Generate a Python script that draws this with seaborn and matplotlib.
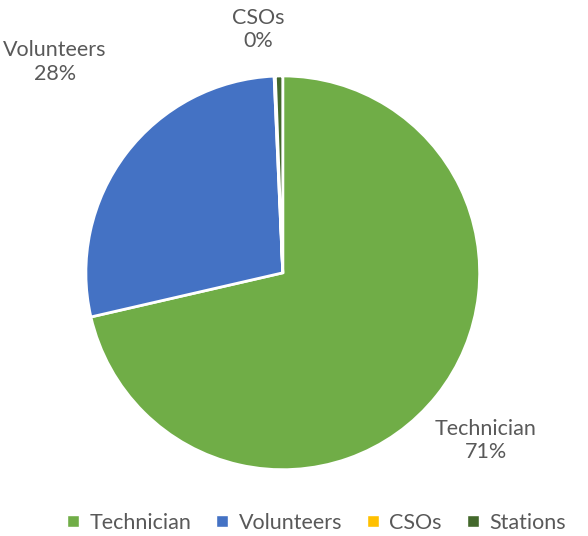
import numpy as np
import pandas as pd
import seaborn as sns
import matplotlib.pyplot as plt
from matplotlib.lines import Line2D

# data
categories = ['Technician', 'Volunteers', 'CSOs', 'Stations']
shares = [71.4, 27.9, 0.1, 0.6]
pct_labels = ['71%', '28%', '0%', None]
colors = ['#70AD47', '#4472C4', '#FFC000', '#43682B']

sns.set_theme(style='white')
plt.rcParams['font.family'] = ['Lato', 'DejaVu Sans']
txt = '#595959'

fig = plt.figure(figsize=(5.88, 5.36), dpi=100)
ax = fig.add_axes([-0.0046, -0.042, 0.971, 1.066])
wedges, _ = ax.pie(shares, colors=colors, startangle=90, counterclock=False,
                   radius=1, wedgeprops=dict(edgecolor='white', linewidth=2))
ax.set_xlim(-1.45, 1.45)
ax.set_ylim(-1.45, 1.45)
ax.set_aspect('equal')
ax.axis('off')

# outside labels
label_pos = {'Technician': (1.03, -0.85), 'Volunteers': (-1.157, 1.071), 'CSOs': (-0.127, 1.234)}
for cat, pct in zip(categories, pct_labels):
    if pct is None:
        continue
    x, y = label_pos[cat]
    ax.text(x, y, f'{cat}\n{pct}', ha='center', va='center', fontsize=15.5,
            color=txt, linespacing=1.2)

handles = [Line2D([0], [0], marker='s', color='w', markerfacecolor=c, markersize=8)
           for c in colors]
fig.legend(handles, categories, loc='center', bbox_to_anchor=(0.537, 0.025), ncol=4,
           frameon=False, fontsize=15.5, handlelength=0.7, handletextpad=0.4,
           columnspacing=1.1, labelcolor=txt)

fig.savefig('out.png', dpi=100)
